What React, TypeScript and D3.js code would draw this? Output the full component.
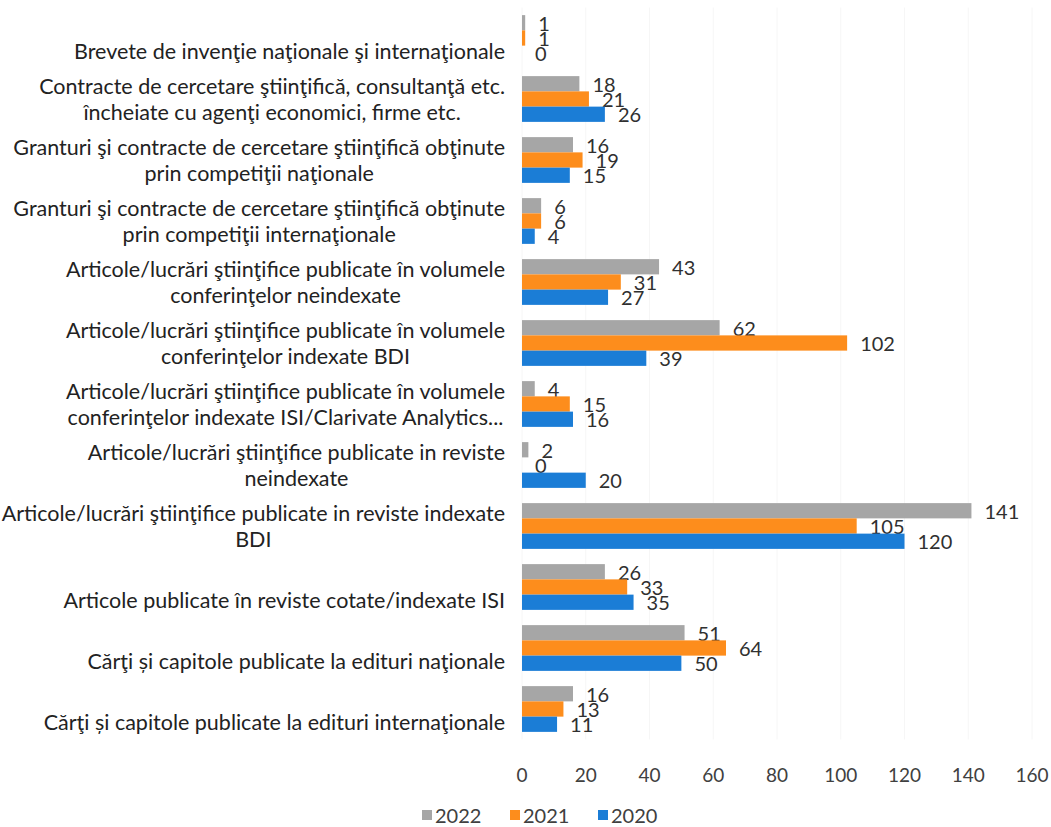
import React, { useRef, useEffect } from 'react';
import * as d3 from 'd3';

const categories = [
  'Brevete de invenţie naţionale şi internaţionale',
  'Contracte de cercetare ştiinţifică, consultanţă etc.\nîncheiate cu agenţi economici, firme etc.',
  'Granturi şi contracte de cercetare ştiinţifică obţinute\nprin competiţii naţionale',
  'Granturi şi contracte de cercetare ştiinţifică obţinute\nprin competiţii internaţionale',
  'Articole/lucrări ştiinţifice publicate în volumele\nconferinţelor neindexate',
  'Articole/lucrări ştiinţifice publicate în volumele\nconferinţelor indexate BDI',
  'Articole/lucrări ştiinţifice publicate în volumele\nconferinţelor indexate ISI/Clarivate Analytics...',
  'Articole/lucrări ştiinţifice publicate in reviste\nneindexate',
  'Articole/lucrări ştiinţifice publicate in reviste indexate\nBDI',
  'Articole publicate în reviste cotate/indexate ISI',
  'Cărţi și capitole publicate la edituri naţionale',
  'Cărţi și capitole publicate la edituri internaţionale',
];

const seriesNames = ['2022', '2021', '2020'];
const values2022 = [1, 18, 16, 6, 43, 62, 4, 2, 141, 26, 51, 16];
const values2021 = [1, 21, 19, 6, 31, 102, 15, 0, 105, 33, 64, 13];
const values2020 = [0, 26, 15, 4, 27, 39, 16, 20, 120, 35, 50, 11];
const xTicks = [0, 20, 40, 60, 80, 100, 120, 140, 160];

const colors = ['#a6a6a6', '#fd8d1c', '#1b7dd6'];
const FONT = 'Lato, "Open Sans", sans-serif';

const App = () => {
  const ref = useRef<SVGSVGElement>(null);
  const width = 1051;
  const height = 827;

  useEffect(() => {
    const svg = d3.select(ref.current);
    svg.selectAll('*').remove();

    const series = [values2022, values2021, values2020];

    const x = d3.scaleLinear().domain([0, 160]).range([522, 1032]);
    const y = d3.scaleBand<number>()
      .domain(d3.range(categories.length))
      .range([7.5, 739.5])
      .paddingInner(0.25)
      .paddingOuter(0.125);
    const ySub = d3.scaleBand<number>()
      .domain(d3.range(seriesNames.length))
      .range([0, y.bandwidth()]);

    // faint gridlines
    svg.append('g')
      .selectAll('line')
      .data(xTicks)
      .enter()
      .append('line')
      .attr('x1', (d) => x(d))
      .attr('x2', (d) => x(d))
      .attr('y1', 7.5)
      .attr('y2', 739.5)
      .attr('stroke', '#f6f6f6')
      .attr('stroke-width', 1);

    // x tick labels
    svg.append('g')
      .selectAll('text')
      .data(xTicks)
      .enter()
      .append('text')
      .attr('x', (d) => x(d))
      .attr('y', 774)
      .attr('text-anchor', 'middle')
      .attr('dominant-baseline', 'central')
      .style('font-family', FONT)
      .style('font-size', '19px')
      .attr('fill', '#404040')
      .text((d) => d);

    // bars + value labels
    series.forEach((vals, s) => {
      const g = svg.append('g');
      g.selectAll('rect')
        .data(vals)
        .enter()
        .append('rect')
        .attr('x', x(0))
        .attr('y', (d, i) => (y(i) as number) + (ySub(s) as number))
        .attr('width', (d) => x(d) - x(0))
        .attr('height', ySub.bandwidth())
        .attr('fill', colors[s]);

      g.selectAll('text')
        .data(vals)
        .enter()
        .append('text')
        .attr('x', (d) => x(d) + 13)
        .attr('y', (d, i) => (y(i) as number) + (ySub(s) as number) + ySub.bandwidth() / 2)
        .attr('dominant-baseline', 'central')
        .style('font-family', FONT)
        .style('font-size', '20px')
        .attr('fill', '#303030')
        .text((d) => d);
    });

    // category labels, each block centred, right edge at 505
    const lineH = 26;
    const rightEdge = 505;
    categories.forEach((label, i) => {
      const lines = label.split('\n');
      const cy = (y(i) as number) + y.bandwidth() / 2;
      // single line labels sit on the lower line like in the original
      const startY = lines.length === 1 ? cy + lineH / 2 : cy - ((lines.length - 1) * lineH) / 2;
      const g = svg.append('g');
      const texts = g.selectAll('text')
        .data(lines)
        .enter()
        .append('text')
        .attr('y', (d, k) => startY + k * lineH)
        .attr('text-anchor', 'middle')
        .attr('dominant-baseline', 'central')
        .style('font-family', FONT)
        .style('font-size', '21.5px')
        .attr('fill', '#222')
        .text((d) => d);
      let maxW = 0;
      texts.each(function () {
        maxW = Math.max(maxW, (this as SVGTextElement).getComputedTextLength());
      });
      texts.attr('x', rightEdge - maxW / 2);
    });

    // legend
    const legend = svg.append('g');
    const items = legend.selectAll('g')
      .data(seriesNames)
      .enter()
      .append('g')
      .attr('transform', (d, i) => `translate(${422 + i * 88}, 815)`);
    items.append('rect')
      .attr('x', 0)
      .attr('y', -5)
      .attr('width', 10)
      .attr('height', 10)
      .attr('fill', (d, i) => colors[i]);
    items.append('text')
      .attr('x', 13)
      .attr('y', 0)
      .attr('dominant-baseline', 'central')
      .style('font-family', FONT)
      .style('font-size', '20px')
      .attr('fill', '#404040')
      .text((d) => d);
  }, []);

  return (
    <svg
      ref={ref}
      width={width}
      height={height}
      style={{ position: 'absolute', left: 0, top: 0, background: 'white' }}
    />
  );
};

export default App;
